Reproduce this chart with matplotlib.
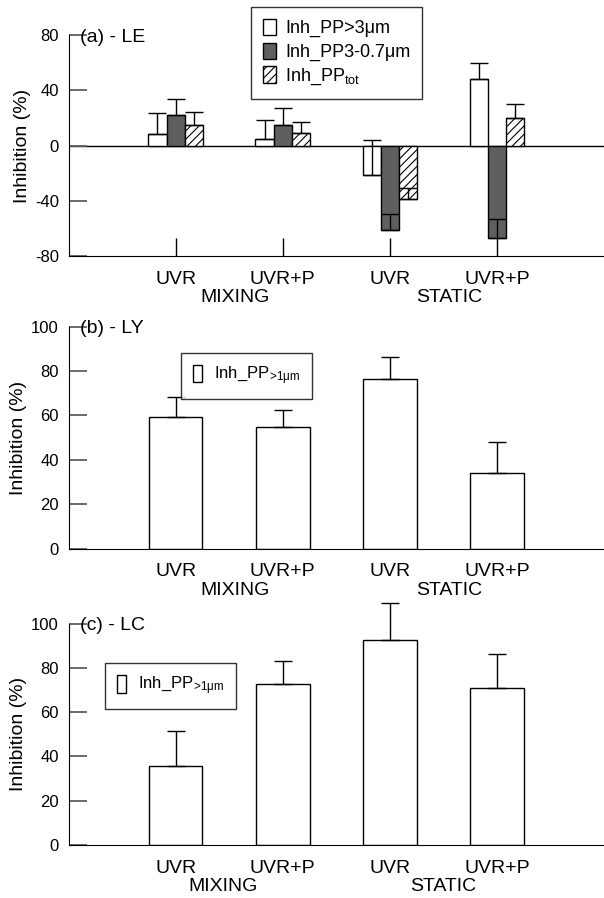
import matplotlib
matplotlib.use('Agg')
import matplotlib.pyplot as plt
from matplotlib.patches import Patch
import numpy as np

plt.rcParams['font.family'] = ['Liberation Sans', 'DejaVu Sans']
plt.rcParams['mathtext.fontset'] = 'custom'
plt.rcParams['mathtext.rm'] = 'Liberation Sans'
plt.rcParams['mathtext.it'] = 'Liberation Sans'
plt.rcParams['axes.unicode_minus'] = False
plt.rcParams['hatch.linewidth'] = 0.8

# categories
treatments = ['UVR', 'UVR+P', 'UVR', 'UVR+P']
groups = ['MIXING', 'STATIC']

# (a) LE - three size fractions
le_gt3 = [8.2, 4.6, -21.3, 48.2]
le_gt3_err = [15.7, 14.2, 25.2, 11.3]
le_mid = [22.4, 14.7, -61.0, -66.7]
le_mid_err = [11.6, 12.8, 11.4, 13.5]
le_tot = [15.0, 8.9, -38.5, 20.0]
le_tot_err = [9.6, 8.4, 7.7, 10.4]

# (b) LY
ly_gt1 = [59.5, 55.0, 76.6, 34.2]
ly_gt1_err = [8.7, 7.3, 9.9, 14.0]

# (c) LC
lc_gt1 = [35.8, 72.6, 92.8, 71.1]
lc_gt1_err = [15.7, 10.5, 16.7, 15.0]

dark = '#5f5f5f'
x = np.arange(1, 5)

fig = plt.figure(figsize=(6.04, 8.98), dpi=100)
ax_a = fig.add_axes([0.1136, 0.7149, 0.8864, 0.2461])
ax_b = fig.add_axes([0.1136, 0.3890, 0.8864, 0.2472])
ax_c = fig.add_axes([0.1136, 0.0590, 0.8864, 0.2465])


def errbars(ax, xs, vals, errs):
    eb = ax.errorbar(xs, vals, yerr=[np.zeros(len(errs)), errs], fmt='none',
                     ecolor='black', elinewidth=1, capsize=6.5, capthick=1, zorder=4)
    for ln in eb.lines[1]:
        ln.set_clip_on(False)
    for ln in eb.lines[2]:
        ln.set_clip_on(False)


def style(ax, ylim, yticks, label, grp_x, xtick_len):
    ax.set_xlim(0, 5)
    ax.set_ylim(*ylim)
    ax.set_yticks(yticks)
    ax.set_xticks(x)
    ax.set_xticklabels(treatments)
    ax.spines['top'].set_visible(False)
    ax.spines['right'].set_visible(False)
    ax.tick_params(axis='y', direction='in', length=13, width=1.3, color='#606060',
                   labelsize=12, pad=7)
    ax.tick_params(axis='x', direction='in', length=xtick_len, width=1, color='black',
                   labelsize=14, pad=10.5)
    ax.set_ylabel('Inhibition (%)', fontsize=14, labelpad=3)
    ax.text(0.021, 0.99, label, transform=ax.transAxes, fontsize=14, va='center', ha='left')
    for gx, g in zip(grp_x, groups):
        ax.annotate(g, xy=(gx, 0), xycoords=('data', 'axes fraction'), xytext=(0, -30),
                    textcoords='offset points', ha='center', va='center', fontsize=14)


def small_legend(ax, anchor):
    leg = ax.legend([Patch(facecolor='white', edgecolor='black', lw=1)],
                    [r'Inh_PP$_{\mathrm{\!>\!1μm}}$'], loc='upper left', bbox_to_anchor=anchor,
                    fontsize=12, frameon=True, fancybox=False, edgecolor='black',
                    borderpad=0.7, handlelength=0.55, handleheight=1.2,
                    handletextpad=0.75, borderaxespad=0)
    leg.get_frame().set_linewidth(1)


# panel a
w = 0.17
ax_a.axhline(0, color='black', lw=1, zorder=1)
ax_a.bar(x - w, le_gt3, w, color='white', edgecolor='black', lw=1, zorder=2)
ax_a.bar(x, le_mid, w, color=dark, edgecolor='black', lw=1, zorder=2)
ax_a.bar(x + w, le_tot, w, color='white', edgecolor='black', hatch='////', lw=1, zorder=2)
errbars(ax_a, x - w, le_gt3, le_gt3_err)
errbars(ax_a, x, le_mid, le_mid_err)
errbars(ax_a, x + w, le_tot, le_tot_err)
style(ax_a, (-80, 80), [-80, -40, 0, 40, 80], '(a) - LE', [1.55, 3.55], 13)
handles_a = [Patch(facecolor='white', edgecolor='black', lw=1),
             Patch(facecolor=dark, edgecolor='black', lw=1),
             Patch(facecolor='white', edgecolor='black', hatch='////', lw=1)]
labels_a = ['Inh_PP>3μm', 'Inh_PP3-0.7μm', r'Inh_PP$_{\mathrm{tot}}$']
leg = ax_a.legend(handles_a, labels_a, loc='upper left', bbox_to_anchor=(0.3407, 1.127),
                  fontsize=13, frameon=True, fancybox=False, edgecolor='black',
                  borderpad=0.65, handlelength=0.75, handleheight=1.0, labelspacing=0.3,
                  handletextpad=0.5, borderaxespad=0)
leg.get_frame().set_linewidth(1)

# panel b
ax_b.bar(x, ly_gt1, 0.5, color='white', edgecolor='black', lw=1, zorder=2)
errbars(ax_b, x, ly_gt1, ly_gt1_err)
style(ax_b, (0, 100), [0, 20, 40, 60, 80, 100], '(b) - LY', [1.55, 3.55], 0)
small_legend(ax_b, (0.21, 0.8815))

# panel c
ax_c.bar(x, lc_gt1, 0.5, color='white', edgecolor='black', lw=1, zorder=2)
errbars(ax_c, x, lc_gt1, lc_gt1_err)
style(ax_c, (0, 100), [0, 20, 40, 60, 80, 100], '(c) - LC', [1.44, 3.5], 0)
small_legend(ax_c, (0.068, 0.822))

fig.savefig('out.png', dpi=100)
